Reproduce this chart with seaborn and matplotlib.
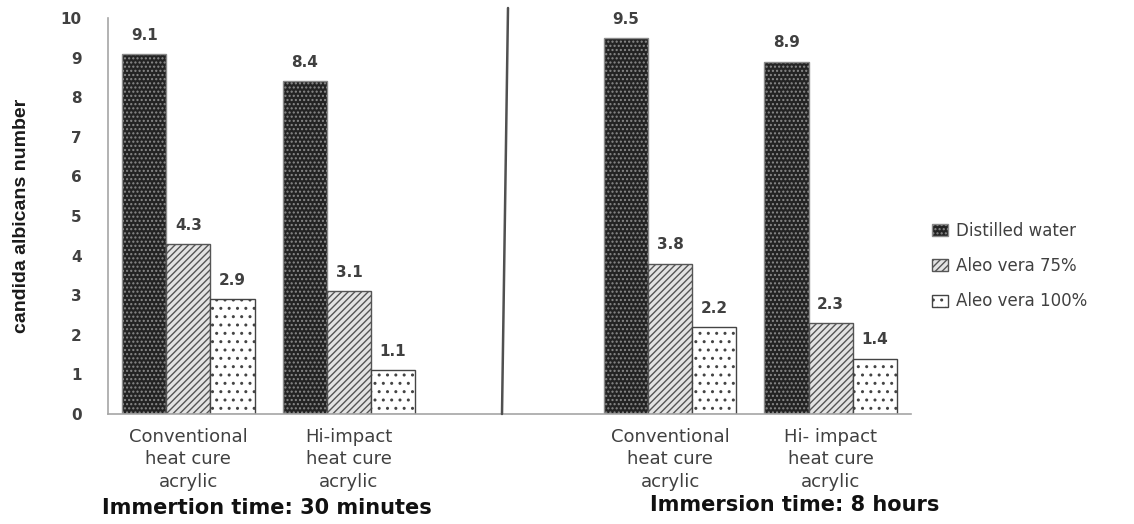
import matplotlib
matplotlib.use("Agg")
import matplotlib.pyplot as plt
import seaborn as sns
import pandas as pd
import numpy as np
from matplotlib.patches import Patch
from matplotlib.lines import Line2D

# ---------------- data ----------------
groups = ["Conv 30 min", "Hi-impact 30 min", "gap", "Conv 8 h", "Hi-impact 8 h"]
group_labels = ["Conventional\nheat cure\nacrylic", "Hi-impact\nheat cure\nacrylic", "",
                "Conventional\nheat cure\nacrylic", "Hi- impact\nheat cure\nacrylic"]
data_groups = ["Conv 30 min", "Hi-impact 30 min", "Conv 8 h", "Hi-impact 8 h"]
series = ["Distilled water", "Aleo vera 75%", "Aleo vera 100%"]
distilled = [9.1, 8.4, 9.5, 8.9]
aleo75 = [4.3, 3.1, 3.8, 2.3]
aleo100 = [2.9, 1.1, 2.2, 1.4]
y_ticks = list(range(0, 11))
panel_titles = ["Immertion time: 30 minutes", "Immersion time: 8 hours"]
y_label = "candida albicans number"

df = pd.DataFrame({
    "group": data_groups * 3,
    "series": [series[0]] * 4 + [series[1]] * 4 + [series[2]] * 4,
    "value": distilled + aleo75 + aleo100,
})

# ---------------- styles ----------------
sns.set_style("white")
plt.rcParams["font.family"] = ["DejaVu Sans"]
plt.rcParams["hatch.linewidth"] = 1.0

styles = [
    dict(face="#232323", hatch="....", hcol="#8a8a8a", edge="#1a1a1a"),
    dict(face="#e3e3e3", hatch="/////", hcol="#555555", edge="#555555"),
    dict(face="#ffffff", hatch="..", hcol="#444444", edge="#444444"),
]
txt = "#404040"
axis_col = "#a6a6a6"

W, H = 1134, 524
fig = plt.figure(figsize=(W / 100, H / 100), dpi=100)
ax = fig.add_axes([108 / W, 1 - 414 / H, (911 - 108) / W, (414 - 18) / H])

sns.barplot(data=df, x="group", y="value", hue="series", order=groups,
            hue_order=series, width=0.825, gap=0, ax=ax, legend=False,
            palette=[s["face"] for s in styles], saturation=1, errorbar=None)


def style_patch(p, s):
    p.set_facecolor(s["face"])
    p.set_hatch(s["hatch"])
    if hasattr(p, "set_hatchcolor"):
        p.set_edgecolor(s["edge"])
        p.set_hatchcolor(s["hcol"])
    else:
        p.set_edgecolor(s["hcol"])
    p.set_linewidth(1.0)


for cont, s in zip(ax.containers, styles):
    for p in cont.patches:
        style_patch(p, s)
    ax.bar_label(cont, fmt="%.1f", padding=8, fontsize=11, fontweight="bold", color=txt)

# axes
ax.set_xlim(-0.5, 4.5)
ax.set_ylim(0, 10)
ax.set_yticks(y_ticks)
ax.set_xticks(range(len(groups)))
ax.set_xticklabels(group_labels)
ax.set_xticks(np.arange(-0.5, len(groups), 1), minor=True)
ax.tick_params(axis="x", which="major", length=0, pad=10, labelsize=13, labelcolor=txt)
ax.tick_params(axis="x", which="minor", direction="inout", length=9, width=1.2, color=axis_col)
ax.tick_params(axis="y", length=0, pad=19, labelsize=11, labelcolor=txt)
for lab in ax.get_yticklabels():
    lab.set_fontweight("bold")
for lab in ax.get_xticklabels():
    lab.set_linespacing(1.32)
ax.set_xlabel("")
ax.set_ylabel(y_label, fontsize=14, fontweight="bold", color="#1a1a1a",
              family=["Liberation Sans", "DejaVu Sans"])
ax.yaxis.set_label_coords((30 - 108) / (911 - 108), 0.5)
for sp in ["top", "right"]:
    ax.spines[sp].set_visible(False)
for sp in ["left", "bottom"]:
    ax.spines[sp].set_color(axis_col)
    ax.spines[sp].set_linewidth(1.2)

# divider line between the two immersion times
fig.add_artist(Line2D([508 / W, 502 / W], [1 - 8 / H, 1 - 414 / H],
                      transform=fig.transFigure, color="#505050", lw=1.8))

# panel titles
fig.text(267 / W, 1 - 508 / H, panel_titles[0], ha="center", va="center",
         fontsize=15, fontweight="bold", color="#111111")
fig.text(795 / W, 1 - 505 / H, panel_titles[1], ha="center", va="center",
         fontsize=15, fontweight="bold", color="#111111")

# legend
handles = []
for name, s in zip(series, styles):
    hp = Patch(facecolor=s["face"], hatch=s["hatch"], label=name,
               edgecolor=s["hcol"], linewidth=1.0)
    handles.append(hp)
leg = fig.legend(handles=handles, loc="center left",
                 bbox_to_anchor=(932 / W, 1 - 266 / H), frameon=False,
                 fontsize=12, handlelength=0.95, handleheight=0.75,
                 handletextpad=0.5, labelspacing=1.05, borderpad=0, borderaxespad=0)
for t in leg.get_texts():
    t.set_color(txt)

fig.savefig("out.png", dpi=100, facecolor="white")
